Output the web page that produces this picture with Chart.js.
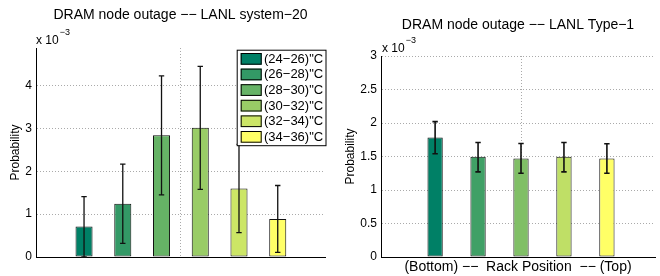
<!DOCTYPE html>
<html>
<head>
<meta charset="utf-8">
<script src="https://cdn.jsdelivr.net/npm/chart.js@4.4.0/dist/chart.umd.min.js"></script>
<style>
    html, body { margin: 0; padding: 0; background: #fff; }
    .wrap { display: flex; width: 660px; height: 276px; }
    .panel { width: 330px; height: 276px; }
</style>
</head>
<body>
<div class="wrap">
    <div class="panel"><canvas id="tempChart" width="330" height="276"></canvas></div>
    <div class="panel"><canvas id="rackChart" width="330" height="276"></canvas></div>
</div>
<script>
// 左图：温度区间 (单位 x 10^-3)
const tempLabels = ['(24\u221226)"C', '(26\u221228)"C', '(28\u221230)"C', '(30\u221232)"C', '(32\u221234)"C', '(34\u221236)"C'];
const tempPositions = [1, 2, 3, 4, 5, 6];
const tempValues = [0.71, 1.245, 2.84, 3.02, 1.60, 0.89];
const tempErrLow = [0.00, 0.32, 1.45, 1.58, 0.57, 0.11];
const tempErrHigh = [1.41, 2.17, 4.23, 4.45, 2.63, 1.67];
const tempColors = ['#008066', '#339966', '#66b366', '#99cc66', '#cce666', '#ffff66'];
const tempYTicks = [0, 1, 2, 3, 4];
const tempXGrid = [3.5];

// 右图：机架位置
const rackPositions = [1, 2, 3, 4, 5];
const rackValues = [1.785, 1.497, 1.47, 1.497, 1.47];
const rackErrLow = [1.54, 1.27, 1.25, 1.27, 1.25];
const rackErrHigh = [2.02, 1.71, 1.695, 1.71, 1.69];
const rackColors = ['#008066', '#40a066', '#80bf66', '#bfdf66', '#ffff66'];
const rackYTicks = [0, 0.5, 1, 1.5, 2, 2.5, 3];
const rackXGrid = [3];

const FONT = "'Liberation Sans', Arial, Helvetica, sans-serif";
Chart.defaults.font.family = FONT;
Chart.defaults.color = '#000';

// 误差线
const errorBarsPlugin = {
    id: 'errorBars',
    afterDatasetsDraw(chart, args, opts) {
        const ctx = chart.ctx;
        const xs = chart.scales.x, ys = chart.scales.y;
        ctx.save();
        ctx.strokeStyle = '#111';
        ctx.lineWidth = opts.width;
        opts.positions.forEach((p, i) => {
            const x = xs.getPixelForValue(p);
            const y1 = ys.getPixelForValue(opts.low[i]);
            const y2 = ys.getPixelForValue(opts.high[i]);
            ctx.beginPath();
            ctx.moveTo(x, y1); ctx.lineTo(x, y2);
            ctx.moveTo(x - opts.cap, y1); ctx.lineTo(x + opts.cap, y1);
            ctx.moveTo(x - opts.cap, y2); ctx.lineTo(x + opts.cap, y2);
            ctx.stroke();
        });
        ctx.restore();
    }
};

// 标题 + 指数标记 + 图例
const decorPlugin = {
    id: 'decor',
    afterDraw(chart, args, opts) {
        const ctx = chart.ctx;
        const area = chart.chartArea;
        ctx.save();
        ctx.fillStyle = '#000';
        ctx.textBaseline = 'middle';
        ctx.textAlign = 'center';
        ctx.font = '14px ' + FONT;
        ctx.fillText(opts.title, (area.left + area.right) / 2, opts.titleY);

        // x 10^-3
        ctx.textAlign = 'left';
        ctx.font = '12px ' + FONT;
        const ex = area.left + opts.expDx;
        const ey = area.top - 7;
        ctx.fillText('x 10', ex, ey);
        const w = ctx.measureText('x 10').width;
        ctx.font = '9px ' + FONT;
        ctx.fillText('\u22123', ex + w + 1, ey - 8);

        if (opts.legend) {
            const left = area.right - 88.3;
            const top = area.top + 1.7;
            const rows = opts.legend.labels.length;
            ctx.fillStyle = '#fff';
            ctx.fillRect(left, top, 89.3, 96);
            ctx.strokeStyle = '#000';
            ctx.lineWidth = 1;
            ctx.strokeRect(left + 0.5, top + 0.5, 88.8, 95.5);
            ctx.font = '13px ' + FONT;
            for (let i = 0; i < rows; i++) {
                const sy = top + 3.3 + i * 15.6;
                ctx.fillStyle = opts.legend.colors[i];
                ctx.fillRect(left + 4, sy, 21, 11.7);
                ctx.strokeRect(left + 4.5, sy + 0.5, 20, 10.7);
                ctx.fillStyle = '#000';
                ctx.fillText(opts.legend.labels[i], left + 27.3, sy + 6.3);
            }
        }
        ctx.restore();
    }
};

function buildChart(id, cfg) {
    const ctx = document.getElementById(id).getContext('2d');
    const dotted = { display: true, color: '#000', width: 1, dash: [1, 2] };
    return new Chart(ctx, {
        type: 'bar',
        data: {
            datasets: [{
                data: cfg.positions.map((p, i) => ({ x: p, y: cfg.values[i] })),
                backgroundColor: cfg.colors,
                borderColor: '#111',
                borderWidth: 1,
                borderSkipped: false,
                categoryPercentage: 1,
                barPercentage: cfg.barPct
            }]
        },
        options: {
            responsive: false,
            animation: false,
            devicePixelRatio: 1,
            layout: { padding: { top: cfg.top, right: 5, left: 0, bottom: 0 } },
            plugins: {
                legend: { display: false },
                tooltip: { enabled: false },
                errorBars: {
                    positions: cfg.positions, low: cfg.low, high: cfg.high,
                    width: cfg.errWidth, cap: 2.7
                },
                decor: {
                    title: cfg.title, titleY: cfg.titleY, expDx: cfg.expDx,
                    legend: cfg.legend
                }
            },
            scales: {
                x: {
                    type: 'linear',
                    min: cfg.xMin, max: cfg.xMax,
                    bounds: 'data',
                    offset: false,
                    grid: { offset: false, color: '#aaa', drawTicks: false, lineWidth: 1 },
                    border: dotted,
                    ticks: { display: false },
                    title: cfg.xTitle ? {
                        display: true, text: cfg.xTitle,
                        font: { size: 14 }, padding: { top: 0, bottom: 0 }
                    } : { display: false },
                    afterBuildTicks(axis) { axis.ticks = cfg.xGrid.map(v => ({ value: v })); },
                    afterFit(axis) { axis.height = 19; }
                },
                y: {
                    min: 0, max: cfg.yMax,
                    bounds: 'data',
                    grid: { color: '#aaa', drawTicks: false, lineWidth: 1 },
                    border: dotted,
                    ticks: { padding: 4, font: { size: 12 }, callback: v => String(v) },
                    title: {
                        display: true, text: 'Probability',
                        font: { size: 12 }, padding: { top: cfg.yTitlePad, bottom: 0 }
                    },
                    afterBuildTicks(axis) { axis.ticks = cfg.yTicks.map(v => ({ value: v })); },
                    afterFit(axis) { axis.width = cfg.yWidth; }
                }
            }
        },
        plugins: [errorBarsPlugin, decorPlugin]
    });
}

buildChart('tempChart', {
    positions: tempPositions, values: tempValues, colors: tempColors,
    low: tempErrLow, high: tempErrHigh,
    yTicks: tempYTicks, xGrid: tempXGrid,
    xMin: -0.24, xMax: 7.22, yMax: 4.88,
    barPct: 0.44, errWidth: 1.3,
    top: 48, yWidth: 36, yTitlePad: 8,
    title: 'DRAM node outage \u2212\u2212 LANL system\u221220', titleY: 15, expDx: 0,
    legend: { labels: tempLabels, colors: tempColors }
});

buildChart('rackChart', {
    positions: rackPositions, values: rackValues, colors: rackColors,
    low: rackErrLow, high: rackErrHigh,
    yTicks: rackYTicks, xGrid: rackXGrid,
    xMin: -0.26, xMax: 6.12, yMax: 3,
    barPct: 0.356, errWidth: 1.6,
    top: 56, yWidth: 51, yTitlePad: 13,
    title: 'DRAM node outage \u2212\u2212 LANL Type\u22121', titleY: 25, expDx: 1,
    xTitle: '(Bottom) \u2212\u2212  Rack Position  \u2212\u2212 (Top)'
});
</script>
</body>
</html>
